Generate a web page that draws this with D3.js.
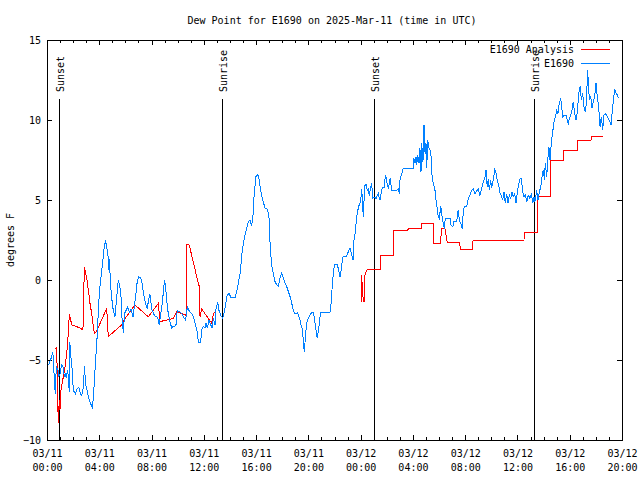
<!DOCTYPE html>
<html><head><meta charset="utf-8">
<script src="https://cdn.jsdelivr.net/npm/d3@7"></script>
<style>
body{margin:0;background:#fff}
svg{display:block}
text{font-family:"DejaVu Sans Mono",monospace;font-size:10px;fill:#000}
</style></head><body>
<svg id="chart" width="640" height="480"></svg>
<script>
// hours since 2025-03-11 00:00 UTC, dew point (F)
const observed = [[0.13,-5.3],[0.31,-4.9],[0.44,-4.5],[0.51,-5.2],[0.56,-6.35],[0.64,-7.1],[0.71,-5.4],[0.84,-5.6],[0.90,-6.0],[0.99,-5.9],[1.12,-5.3],[1.22,-5.4],[1.32,-6.0],[1.40,-5.9],[1.48,-6.1],[1.58,-5.6],[1.71,-7.0],[1.74,-3.85],[1.84,-4.9],[1.94,-5.7],[2.01,-6.9],[2.17,-7.1],[2.30,-6.8],[2.43,-6.7],[2.55,-7.1],[2.66,-7.2],[2.78,-6.7],[2.87,-5.4],[2.95,-6.5],[3.04,-6.8],[3.16,-7.3],[3.29,-7.6],[3.42,-7.9],[3.48,-8.0],[3.56,-7.2],[3.67,-5.7],[3.77,-4.4],[3.84,-3.5],[3.93,-1.9],[4.02,-0.6],[4.11,0],[4.19,0.6],[4.31,1.46],[4.38,2.1],[4.48,2.4],[4.57,2.1],[4.67,1.46],[4.72,0.6],[4.77,1.3],[4.87,-0.4],[4.97,-1.25],[5.07,-1.9],[5.20,-2.3],[5.32,-1.25],[5.45,0],[5.56,-0.3],[5.66,-1.0],[5.76,-2.7],[5.85,-3.3],[5.93,-2.1],[6.05,-1.9],[6.16,-1.7],[6.30,-2.0],[6.43,-1.8],[6.58,-2.3],[6.77,-1.1],[6.89,-0.2],[7.00,0.2],[7.17,0.15],[7.27,-0.2],[7.42,-1.0],[7.55,-1.5],[7.68,-1.8],[7.77,-1.2],[7.88,-0.9],[8.01,-1.8],[8.15,-2.1],[8.29,-2.3],[8.42,-2.3],[8.52,-2.5],[8.59,-2.8],[8.78,-1.7],[8.90,-0.8],[8.99,0],[9.07,-0.4],[9.16,-1.3],[9.28,-2.1],[9.41,-2.6],[9.54,-3.0],[9.66,-2.9],[9.79,-2.9],[9.87,-2.8],[9.97,-1.9],[10.18,-2.0],[10.31,-2.1],[10.51,-2.4],[10.61,-2.5],[10.69,-1.9],[10.77,-1.7],[10.89,-1.95],[11.07,-2.1],[11.20,-2.3],[11.33,-2.7],[11.46,-3.1],[11.53,-3.5],[11.59,-3.9],[11.76,-3.9],[11.84,-3.1],[11.96,-2.9],[12.09,-3.0],[12.17,-2.7],[12.27,-3.0],[12.40,-2.5],[12.53,-2.8],[12.63,-3.0],[12.73,-2.4],[12.86,-2.8],[12.93,-1.8],[13.06,-1.4],[13.16,-1.9],[13.32,-2.25],[13.45,-2.4],[13.54,-2.1],[13.66,-1.6],[13.77,-1.0],[13.93,-0.83],[14.08,-1.1],[14.39,-1.1],[14.52,-0.73],[14.64,-0.2],[14.77,0.4],[14.85,1.04],[14.95,1.9],[15.05,2.4],[15.15,2.8],[15.28,3.2],[15.40,3.65],[15.53,3.75],[15.66,3.4],[15.76,4.0],[15.82,5.0],[15.92,5.9],[15.99,6.46],[16.12,6.6],[16.22,6.35],[16.30,5.9],[16.38,5.5],[16.48,5.1],[16.58,4.8],[16.68,4.5],[16.89,4.4],[16.99,3.85],[17.04,2.7],[17.12,1.67],[17.19,0.94],[17.32,0.42],[17.45,-0.1],[17.58,-0.3],[17.70,-0.4],[17.83,0.1],[17.96,0.42],[18.08,0.17],[18.21,-0.2],[18.34,-0.4],[18.47,-0.73],[18.60,-1.04],[18.73,-1.46],[18.85,-1.9],[18.98,-2.1],[19.18,-2.05],[19.28,-2.3],[19.36,-2.5],[19.44,-2.8],[19.54,-3.1],[19.61,-3.75],[19.69,-4.5],[19.80,-3.3],[19.87,-2.7],[20.00,-2.4],[20.13,-2.2],[20.26,-2.0],[20.36,-2.0],[20.45,-2.3],[20.56,-3.0],[20.68,-3.65],[20.81,-2.9],[20.89,-2.3],[20.97,-2.0],[21.66,-2.0],[21.73,-1.56],[21.79,-0.83],[21.86,0],[21.94,0.6],[21.99,0.98],[22.19,0.98],[22.29,0.73],[22.42,0.2],[22.50,0.6],[22.60,1.25],[22.67,1.5],[22.93,1.5],[23.06,1.77],[23.19,2.0],[23.32,1.56],[23.42,1.25],[23.49,2.5],[23.57,2.9],[23.65,3.54],[23.74,4.17],[23.85,4.6],[23.95,4.8],[24.03,5.2],[24.08,5.7],[24.16,4.6],[24.20,3.96],[24.26,5.0],[24.33,5.9],[24.41,6.0],[24.51,5.6],[24.59,5.7],[24.66,5.25],[24.72,5.6],[24.85,6.04],[24.92,5.1],[25.02,5.2],[25.18,5.1],[25.35,5.4],[25.43,5.1],[25.48,5.0],[25.56,5.4],[25.66,5.8],[25.81,5.8],[25.86,6.25],[25.92,6.56],[25.99,6.15],[26.12,5.7],[26.25,6.35],[26.38,5.6],[26.76,5.6],[26.88,5.7],[26.96,5.4],[27.01,6.25],[27.27,7.0],[28.03,7.0],[28.08,7.6],[28.16,7.3],[28.24,7.7],[28.29,7.2],[28.37,7.8],[28.47,7.3],[28.54,8.23],[28.62,6.77],[28.67,8.54],[28.77,7.4],[28.85,9.7],[28.93,7.9],[29.00,8.54],[29.06,7.0],[29.13,8.75],[29.21,8.3],[29.31,8.1],[29.39,7.7],[29.44,6.67],[29.56,6.04],[29.69,5.6],[29.77,5.0],[29.87,4.4],[29.94,3.96],[30.02,3.85],[30.13,4.6],[30.23,3.96],[30.33,3.54],[30.40,3.2],[30.48,3.85],[30.84,3.85],[30.92,3.44],[31.05,3.33],[31.14,3.65],[31.35,3.65],[31.47,4.4],[31.55,3.75],[31.66,3.54],[31.78,3.2],[31.86,4.4],[31.99,4.6],[32.12,4.6],[32.24,5.1],[32.37,5.3],[32.50,5.6],[32.62,5.7],[32.75,5.4],[33.00,5.7],[33.13,5.3],[33.26,5.7],[33.39,6.15],[33.52,6.46],[33.59,6.9],[33.69,5.8],[33.77,6.3],[33.85,5.6],[33.95,6.25],[34.03,5.75],[34.15,6.25],[34.26,6.9],[34.36,6.7],[34.46,6.2],[34.57,5.9],[34.67,5.4],[34.76,5.3],[34.87,5.0],[34.97,5.5],[35.07,4.8],[35.18,5.4],[35.28,4.8],[35.38,5.3],[35.48,5.1],[35.58,5.5],[35.68,5.2],[35.79,5.4],[35.89,4.8],[35.99,5.5],[36.07,5.9],[36.20,6.35],[36.30,6.35],[36.40,5.5],[36.50,5.2],[36.60,5.3],[36.71,4.9],[36.83,5.3],[36.96,5.1],[37.06,5.4],[37.17,4.8],[37.27,5.2],[37.34,4.9],[37.47,5.6],[37.57,5.0],[37.67,5.5],[37.78,5.8],[37.88,6.46],[37.98,6.9],[38.06,6.25],[38.13,7.3],[38.24,6.46],[38.32,7.5],[38.41,8.3],[38.49,7.5],[38.54,8.1],[38.62,8.75],[38.70,9.27],[38.80,9.9],[38.90,10.2],[39.00,10.6],[39.10,10.4],[39.20,11.04],[39.31,11.35],[39.39,10.83],[39.46,10.2],[39.56,10.3],[39.72,10.3],[39.82,10.0],[39.89,9.7],[39.97,10.1],[40.08,10.3],[40.17,10.6],[40.27,11.15],[40.38,10.4],[40.48,10.0],[40.58,10.5],[40.69,11.67],[40.79,12.1],[40.89,11.25],[40.99,11.67],[41.09,10.83],[41.19,10.5],[41.30,11.25],[41.35,13.1],[41.42,12.5],[41.50,11.25],[41.61,11.46],[41.71,10.73],[41.80,11.15],[41.91,11.46],[42.01,12.3],[42.11,11.46],[42.22,10.73],[42.32,9.58],[42.42,10.2],[42.52,9.4],[42.62,10.3],[42.72,10.4],[42.83,10.3],[42.95,10.1],[43.08,9.9],[43.16,9.7],[43.24,10.4],[43.34,11.25],[43.44,11.9],[43.54,11.67],[43.64,11.56],[43.75,11.35]];

const analysis = [[0.67,-4.33],[0.74,-4.17],[0.86,-8.96],[0.94,-7.5],[0.99,-8.1],[1.05,-7.5],[1.07,-6.9],[1.25,-6.04],[1.38,-5.4],[1.51,-4.6],[1.63,-3.33],[1.71,-2.1],[1.89,-2.8],[2.53,-3.0],[2.70,-3.1],[2.78,-2.9],[2.85,0.83],[2.91,0.6],[3.04,0.1],[3.16,-0.6],[3.29,-1.46],[3.42,-2.1],[3.54,-2.9],[3.62,-3.33],[3.80,-3.2],[4.57,-1.77],[4.69,-3.54],[5.72,-2.8],[5.97,-2.4],[6.73,-1.56],[7.75,-2.3],[8.52,-1.46],[8.65,-2.6],[9.66,-2.4],[9.93,-2.0],[10.64,-2.2],[10.69,2.2],[10.87,2.2],[10.94,2.0],[11.20,1.1],[11.46,0.2],[11.65,-0.4],[11.71,-2.3],[11.84,-1.8],[11.96,-1.95],[12.34,-2.4],[12.60,-2.7],[12.73,-2.1],[12.86,-2.0],
  [18.0,null],
  [24.03,0.3],[24.05,-1.35],[24.12,-0.1],[24.20,-1.35],[24.28,-1.35],[24.33,0.3],[24.45,0.6],[24.59,0.67],[25.54,0.67],[25.55,1.54],[26.50,1.54],[26.51,3.1],[27.60,3.1],[27.65,3.2],[28.62,3.2],[28.67,3.54],[29.56,3.54],[29.57,2.3],[30.10,2.3],[30.20,3.2],[30.45,3.2],[30.63,2.33],[31.60,2.33],[31.61,1.92],[32.58,1.92],[32.60,2.44],[36.50,2.44],[36.51,3.0],[37.50,3.0],[37.57,5.2],[38.54,5.2],[38.55,7.5],[39.51,7.5],[39.52,8.1],[40.58,8.1],[40.59,8.75],[41.63,8.75],[41.64,9.0],[42.52,9.0]];

const sunHours = [0.94, 13.37, 25.02, 37.27];
const sunLabels = ["Sunset","Sunrise","Sunset","Sunrise"];
const yTicks = [-10,-5,0,5,10,15];
const seriesNames = ["E1690 Analysis","E1690"];
const seriesColors = ["#ff0000","#0080ff"];
const title = "Dew Point for E1690 on 2025-Mar-11 (time in UTC)";
const yLabel = "degrees F";

const start = Date.UTC(2025,2,11,0,0);
const toDate = h => new Date(start + h*3600e3);
const svg = d3.select("#chart");
const L=47,R=622,T=40,B=440;
const x = d3.scaleUtc().domain([toDate(0), toDate(44)]).range([L,R]);
const y = d3.scaleLinear().domain([-10,15]).range([B,T]);

// title
svg.append("text").attr("x",332).attr("y",24).attr("text-anchor","middle").text(title);
// y label
svg.append("text").attr("transform","translate(14,240) rotate(-90)").attr("text-anchor","middle").text(yLabel);

const clean = g => { g.select(".domain").remove(); g.attr("shape-rendering","crispEdges"); };

// bottom axis (major with labels)
const gx = svg.append("g").attr("transform",`translate(0,${B})`)
  .call(d3.axisBottom(x).ticks(d3.utcHour.every(4)).tickSizeInner(-5).tickSizeOuter(0).tickFormat(""))
  .call(clean);
gx.selectAll(".tick text").each(function(d){
  const t = d3.select(this).attr("y",null).attr("dy",null);
  t.append("tspan").attr("x",0).attr("y",17).text(d3.utcFormat("%m/%d")(d));
  t.append("tspan").attr("x",0).attr("y",31).text(d3.utcFormat("%H:%M")(d));
});
gx.attr("font-size",null).attr("font-family",null);
svg.append("g").attr("transform",`translate(0,${B})`)
  .call(d3.axisBottom(x).ticks(d3.utcHour.every(1)).tickSizeInner(-3).tickSizeOuter(0).tickFormat(""))
  .call(clean);
svg.append("g").attr("transform",`translate(0,${T})`)
  .call(d3.axisTop(x).ticks(d3.utcHour.every(4)).tickSizeInner(-5).tickSizeOuter(0).tickFormat(""))
  .call(clean);
svg.append("g").attr("transform",`translate(0,${T})`)
  .call(d3.axisTop(x).ticks(d3.utcHour.every(1)).tickSizeInner(-3).tickSizeOuter(0).tickFormat(""))
  .call(clean);
// left / right
const gy = svg.append("g").attr("transform",`translate(${L},0)`)
  .call(d3.axisLeft(y).tickValues(yTicks).tickSizeInner(-5).tickSizeOuter(0).tickPadding(6))
  .call(clean);
gy.attr("font-size",null).attr("font-family",null);
svg.append("g").attr("transform",`translate(${R},0)`)
  .call(d3.axisRight(y).tickValues(yTicks).tickSizeInner(-5).tickSizeOuter(0).tickFormat(""))
  .call(clean);

// border
svg.append("rect").attr("x",L+0.5).attr("y",T+0.5).attr("width",R-L).attr("height",B-T)
  .attr("fill","none").attr("stroke","#000").attr("shape-rendering","crispEdges");

// sunrise / sunset
sunHours.forEach((h,i)=>{
  const sx = Math.round(x(toDate(h)))+0.5;
  svg.append("line").attr("x1",sx).attr("x2",sx).attr("y1",99).attr("y2",B)
    .attr("stroke","#000").attr("shape-rendering","crispEdges");
  svg.append("text").attr("transform",`translate(${sx+4},92) rotate(-90)`).attr("text-anchor","start").text(sunLabels[i]);
});

// series
const line = d3.line().defined(d=>d[1]!=null).x(d=>x(toDate(d[0]))).y(d=>y(d[1]));
[analysis, observed].forEach((data,i)=>{
  svg.append("path").datum(data).attr("d",line).attr("fill","none")
    .attr("stroke",seriesColors[i]).attr("stroke-width",1).attr("shape-rendering","crispEdges");
});

// legend
seriesNames.forEach((name,i)=>{
  const ly = 49.5 + i*14;
  svg.append("text").attr("x",574).attr("y",ly+3.5).attr("text-anchor","end").text(name);
  svg.append("line").attr("x1",581).attr("x2",610).attr("y1",ly).attr("y2",ly)
    .attr("stroke",seriesColors[i]).attr("stroke-width",1).attr("shape-rendering","crispEdges");
});
</script>
</body></html>
